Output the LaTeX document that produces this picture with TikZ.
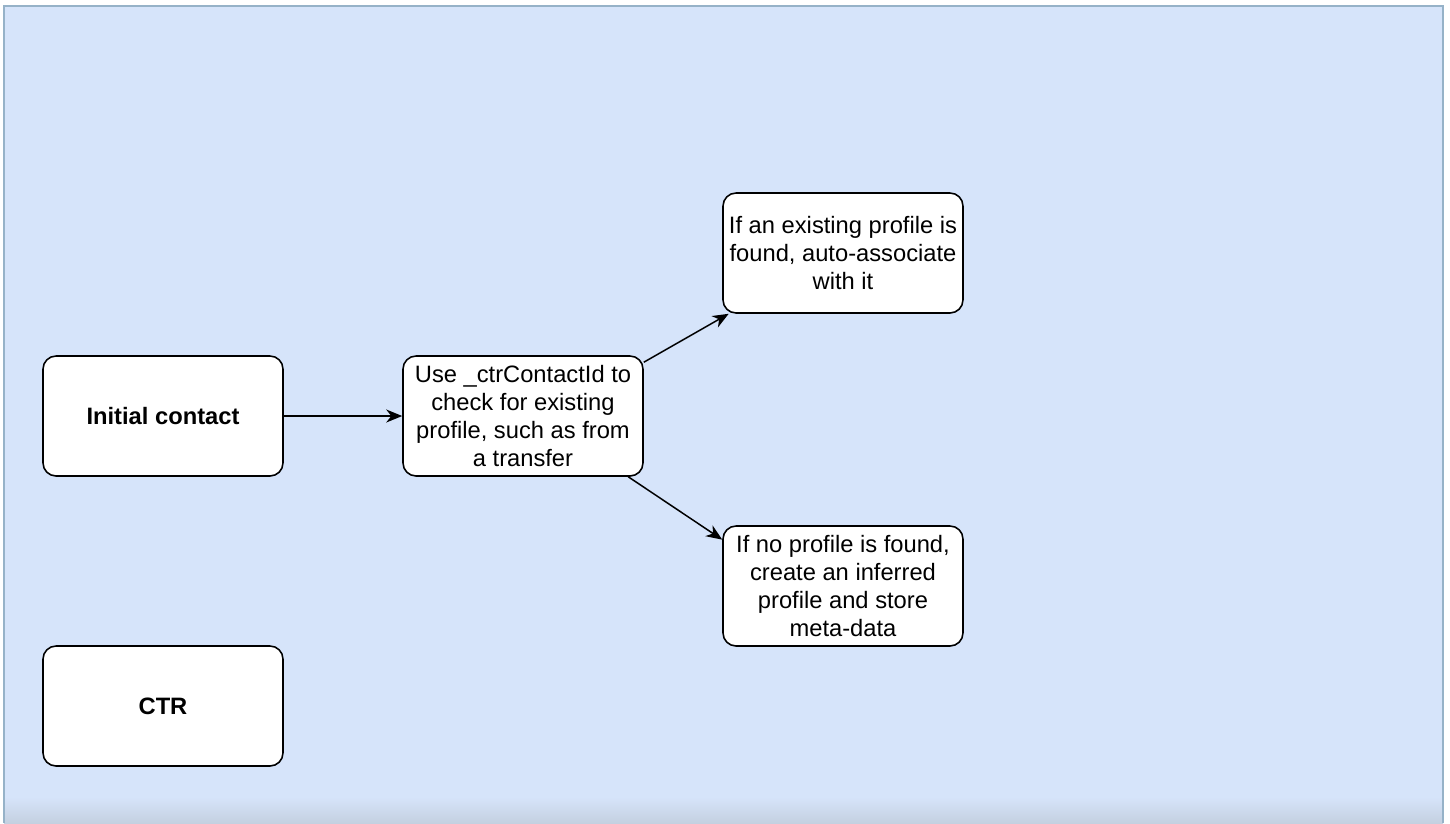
\documentclass[tikz,border=0pt]{standalone}
\usepackage{fontspec}
\setmainfont{Liberation Sans}
\usepackage{tikz}
\usetikzlibrary{arrows.meta}

\definecolor{canvas}{RGB}{214,228,250}
\definecolor{canvasedge}{RGB}{150,178,200}
\definecolor{canvasfoot}{RGB}{196,208,224}

\tikzset{
    stepbox/.style={draw, line width=0.9pt, fill=white, rounded corners=0.26cm,
        minimum width=4.8cm, minimum height=2.4cm, align=center,
        font=\fontsize{13.5pt}{15.9pt}\selectfont, inner sep=0pt},
    flow/.style={line width=0.85pt, -{Stealth[length=0.32cm, width=0.26cm, inset=0.1cm]}}
}

\begin{document}
\begin{tikzpicture}[x=0.02cm, y=-0.02cm]
        \useasboundingbox (0,0) rectangle (1450,823);
        % canvas
        \fill[canvas] (4,6) rectangle (1443,823);
        \shade[top color=canvas, bottom color=canvasfoot] (4,797) rectangle (1443,823);
        \draw[canvasedge, line width=0.6pt] (4,823) -- (4,6) -- (1443,6) -- (1443,823);

        \node[stepbox] (init) at (163,416) {\textbf{Initial contact}};
        \node[stepbox] (ctr) at (163,706) {\textbf{CTR}};
        \node[stepbox] (check) at (523,416) {Use \_ctrContactId to\\check for existing\\profile, such as from\\a transfer};
        \node[stepbox] (found) at (843,253) {If an existing profile is\\found, auto-associate\\with it};
        \node[stepbox] (notfound) at (843,586) {If no profile is found,\\create an inferred\\profile and store\\meta-data};

        \draw[flow] (init) -- (check);
        \draw[flow] (check.24) -- (found.208);
        \draw[flow] (check.-30) -- (notfound.159);
\end{tikzpicture}
\end{document}
